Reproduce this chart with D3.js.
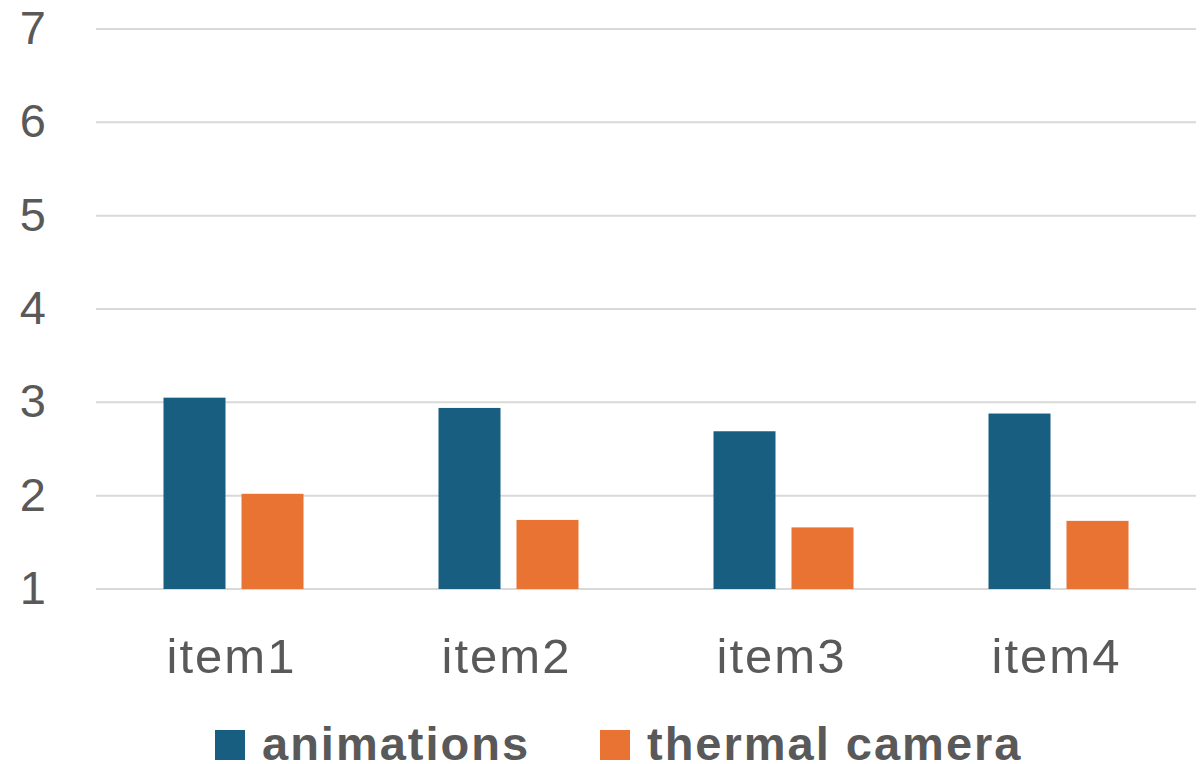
<!DOCTYPE html>
<html>
<head>
<meta charset="utf-8">
<script src="https://cdn.jsdelivr.net/npm/d3@7"></script>
<style>
  body { margin: 0; background: #fff; }
  svg { display: block; font-family: "Liberation Sans", Arial, sans-serif; }
</style>
</head>
<body>
<svg id="chart" width="1202" height="764"></svg>
<script>
const categories = ["item1", "item2", "item3", "item4"];
const seriesNames = ["animations", "thermal camera"];
const animations = [3.05, 2.94, 2.69, 2.88];
const thermalCamera = [2.02, 1.74, 1.66, 1.73];
const yTicks = [1, 2, 3, 4, 5, 6, 7];
const colors = ["#175e80", "#e97333"];

const svg = d3.select("#chart");
const plotLeft = 96, plotRight = 1196, plotTop = 29, plotBottom = 589;

const x = d3.scaleBand().domain(categories).range([plotLeft, plotRight]);
// two bars of 62px with a 16px gap inside a 140px group
const xSeries = d3.scaleBand().domain(seriesNames).range([0, 140]).paddingInner(16 / 78);
const y = d3.scaleLinear().domain([1, 7]).range([plotBottom, plotTop]);

// gridlines
svg.append("g")
    .selectAll("line")
    .data(yTicks)
    .enter()
    .append("line")
    .attr("x1", plotLeft)
    .attr("x2", plotRight)
    .attr("y1", d => y(d))
    .attr("y2", d => y(d))
    .attr("stroke", "#d9d9d9")
    .attr("stroke-width", 2);

// y labels
svg.append("g")
    .selectAll("text")
    .data(yTicks)
    .enter()
    .append("text")
    .attr("x", 46)
    .attr("y", d => y(d) + 15)
    .attr("text-anchor", "end")
    .attr("font-size", 47)
    .attr("fill", "#595959")
    .text(d => d);

const rows = categories.map((c, i) => ({ cat: c, values: [animations[i], thermalCamera[i]] }));

const groups = svg.append("g")
    .selectAll("g")
    .data(rows)
    .enter()
    .append("g")
    .attr("transform", d => `translate(${x(d.cat) + x.bandwidth() / 2 - 70},0)`);

groups.selectAll("rect")
    .data(d => d.values.map((v, j) => ({ name: seriesNames[j], v, j })))
    .enter()
    .append("rect")
    .attr("x", d => xSeries(d.name))
    .attr("width", xSeries.bandwidth())
    .attr("y", d => y(d.v))
    .attr("height", d => y(1) - y(d.v))
    .attr("fill", d => colors[d.j]);

// category labels
svg.append("g")
    .selectAll("text")
    .data(categories)
    .enter()
    .append("text")
    .attr("x", d => x(d) + x.bandwidth() / 2 - 2)
    .attr("y", 673)
    .attr("text-anchor", "middle")
    .attr("font-size", 49)
    .attr("letter-spacing", 2)
    .attr("fill", "#595959")
    .text(d => d);

// legend
const legendX = [215, 600];
const legend = svg.append("g")
    .selectAll("g")
    .data(seriesNames)
    .enter()
    .append("g")
    .attr("transform", (d, i) => `translate(${legendX[i]},730)`);

legend.append("rect")
    .attr("width", 30)
    .attr("height", 30)
    .attr("fill", (d, i) => colors[i]);

legend.append("text")
    .attr("x", 47)
    .attr("y", 30)
    .attr("font-size", 47)
    .attr("letter-spacing", 2)
    .attr("font-weight", "bold")
    .attr("fill", "#595959")
    .text(d => d);
</script>
</body>
</html>
